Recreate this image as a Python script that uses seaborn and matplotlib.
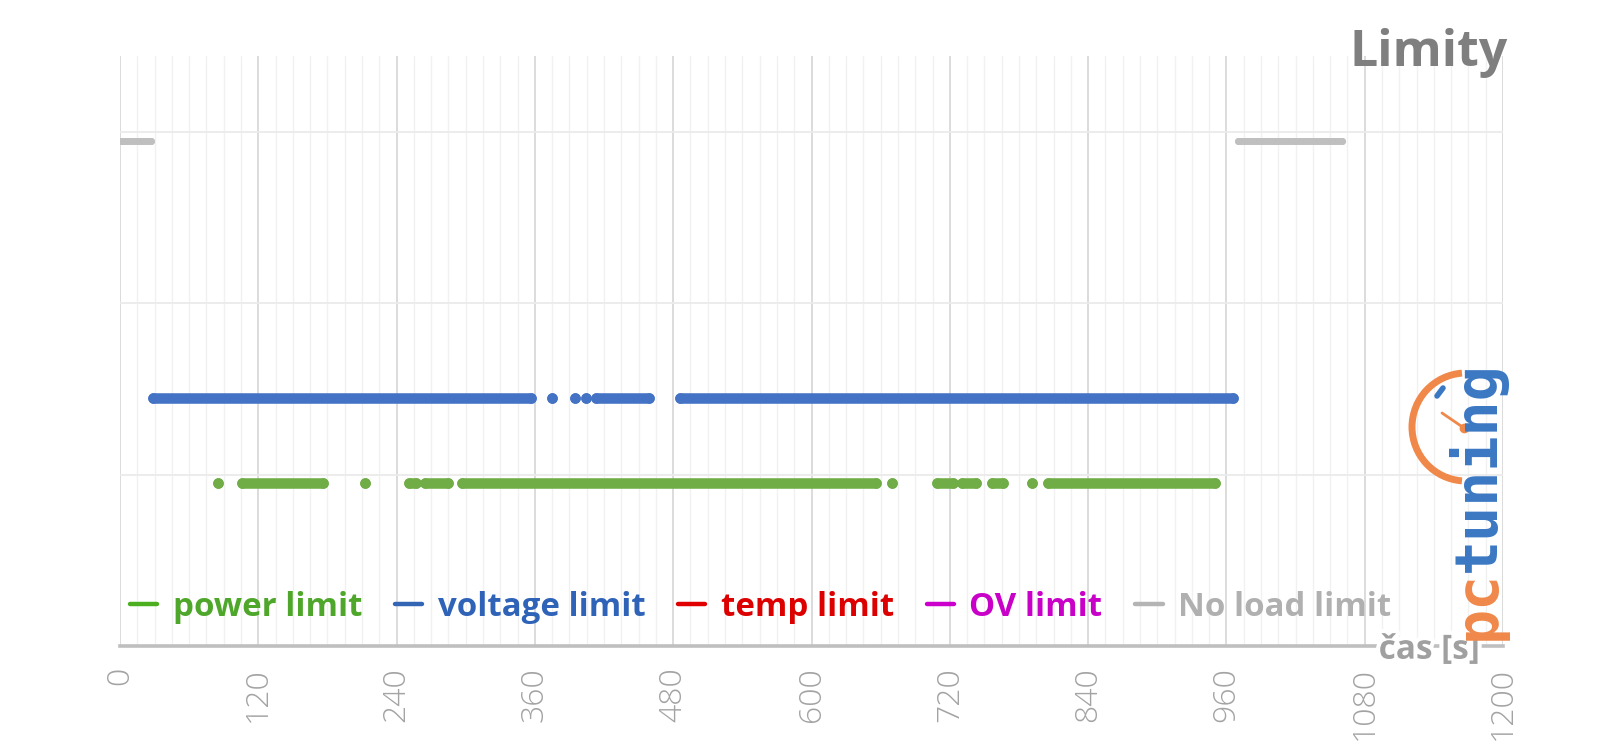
import numpy as np
import pandas as pd
import matplotlib
matplotlib.use("Agg")
import matplotlib.pyplot as plt
import seaborn as sns
from matplotlib.lines import Line2D
from matplotlib.patches import Arc
import matplotlib.patheffects as pe

# ---------------- data (time in seconds) ----------------
power_start = [85, 106, 212.7, 251, 265, 297, 669.6, 709, 731, 757, 791, 805.5]
power_end = [85, 176.5, 212.7, 257, 285, 656, 669.6, 723, 743, 766.5, 791, 950]
power_level = 0.95

voltage_start = [29, 374.5, 395, 404, 413, 486]
voltage_end = [357, 374.5, 395, 404, 459, 966]
voltage_level = 1.45

noload_start = [0.5, 970]
noload_end = [27, 1060]
noload_level = 2.95

legend_labels = ["power limit", "voltage limit", "temp limit", "OV limit", "No load limit"]
x_ticks = [0, 120, 240, 360, 480, 600, 720, 840, 960, 1080, 1200]

# colours
c_power = "#70ad47"
c_voltage = "#4472c4"
c_noload = "#bfbfbf"
legend_line_colors = ["#4caf1f", "#3465b5", "#e00000", "#cc00cc", "#b4b4b4"]
legend_text_colors = ["#4ea72a", "#2f63b8", "#dd0000", "#c800c8", "#b0b0b0"]


def segments_df(starts, ends, level):
    rows = []
    for i, (s, e) in enumerate(zip(starts, ends)):
        rows.append({"t": s, "y": level, "seg": i})
        rows.append({"t": e, "y": level, "seg": i})
    return pd.DataFrame(rows)


sns.set_theme(style="white")
plt.rcParams["font.family"] = ["Open Sans", "DejaVu Sans"]

fig = plt.figure(figsize=(16, 7.45), dpi=100)
ax = fig.add_axes([120 / 1600, 1 - 646 / 745, 1383 / 1600, (646 - 55.6) / 745])

ax.set_xlim(0, 1200)
ax.set_ylim(0, 3.446)

# grid
ax.set_xticks(x_ticks)
ax.set_xticks(np.arange(0, 1201, 15), minor=True)
ax.set_yticks([1, 2, 3])
ax.grid(which="minor", axis="x", color="#f1f1f1", lw=1.0, zorder=0)
ax.grid(which="major", axis="x", color="#d9d9d9", lw=1.3, zorder=0)
ax.grid(which="major", axis="y", color="#ebebeb", lw=1.3, zorder=0)
ax.set_axisbelow(True)

for spine in ["top", "right", "left"]:
    ax.spines[spine].set_visible(False)
ax.spines["bottom"].set_color("#bfbfbf")
ax.spines["bottom"].set_linewidth(2.6)

ax.tick_params(axis="x", which="major", direction="out", length=6, width=2.2,
               color="#bfbfbf", pad=9, labelsize=23, labelcolor="#a3a3a3",
               labelrotation=90)
ax.tick_params(axis="x", which="minor", length=0)
ax.tick_params(axis="y", length=0, labelleft=False)
ax.set_xticklabels([str(v) for v in x_ticks], va="top", fontweight="light")

# data marks
for starts, ends, level, col, lw in [
    (noload_start, noload_end, noload_level, c_noload, 5.0),
    (voltage_start, voltage_end, voltage_level, c_voltage, 7.6),
    (power_start, power_end, power_level, c_power, 7.6),
]:
    df = segments_df(starts, ends, level)
    sns.lineplot(data=df, x="t", y="y", units="seg", estimator=None, sort=False,
                 color=col, lw=lw, solid_capstyle="round", marker="o",
                 markersize=lw, markeredgewidth=0, legend=False, ax=ax, zorder=3)

ax.set_xlabel("")
ax.set_ylabel("")

# legend
handles = [Line2D([], [], color=c, lw=3.2) for c in legend_line_colors]
leg = ax.legend(handles, legend_labels, loc="center left",
                bbox_to_anchor=(0.0075, 0.066), ncol=5, frameon=False,
                handlelength=0.82, handletextpad=0.46, columnspacing=1.0,
                borderpad=0, borderaxespad=0,
                prop={"family": ["Open Sans", "DejaVu Sans"], "weight": "bold", "size": 23.8})
for txt, c in zip(leg.get_texts(), legend_text_colors):
    txt.set_color(c)

# axis title on the axis line
ax.annotate("čas [s]", xy=(1136, 0), xycoords="data", xytext=(0, -3),
            textcoords="offset points", ha="center", va="center",
            fontsize=24, fontweight="bold", color="#a0a0a0",
            path_effects=[pe.withStroke(linewidth=6, foreground="white")],
            zorder=10, annotation_clip=False)

# chart title
fig.text(1508 / 1600, 1 - 28 / 745, "Limity", ha="right", va="top",
         fontsize=36, fontweight="bold", color="#7f7f7f")

# logo (pctuning), rotated, reading bottom-to-top
logo_font = ["DejaVu Sans Mono", "DejaVu Sans"]
fig.text(1495 / 1600, 1 - 640 / 745, "pc", rotation=90, ha="left", va="baseline",
         fontsize=42, fontweight="bold", color="#f0884a",
         family=logo_font, rotation_mode="anchor")
fig.text(1495 / 1600, 1 - 572 / 745, "tuning", rotation=90, ha="left", va="baseline",
         fontsize=42, fontweight="bold", color="#3b78c3",
         family=logo_font, rotation_mode="anchor")
cx, cy, r = 1466, 427, 54
arc = Arc((cx / 1600, 1 - cy / 745), 2 * r / 1600, 2 * r / 745, theta1=92, theta2=268,
          transform=fig.transFigure, color="#f0884a", lw=5)
fig.add_artist(arc)
fig.add_artist(Line2D([1442 / 1600, 1464 / 1600], [1 - 413 / 745, 1 - 428 / 745],
                      transform=fig.transFigure, color="#f0884a", lw=2))
fig.add_artist(Line2D([1464 / 1600], [1 - 428 / 745], transform=fig.transFigure,
                      color="#f0884a", marker="o", markersize=6))
fig.add_artist(Line2D([1437 / 1600, 1443 / 1600], [1 - 396 / 745, 1 - 388 / 745],
                      transform=fig.transFigure, color="#3b78c3", lw=4))

fig.savefig("out.png", dpi=100, facecolor="white")
